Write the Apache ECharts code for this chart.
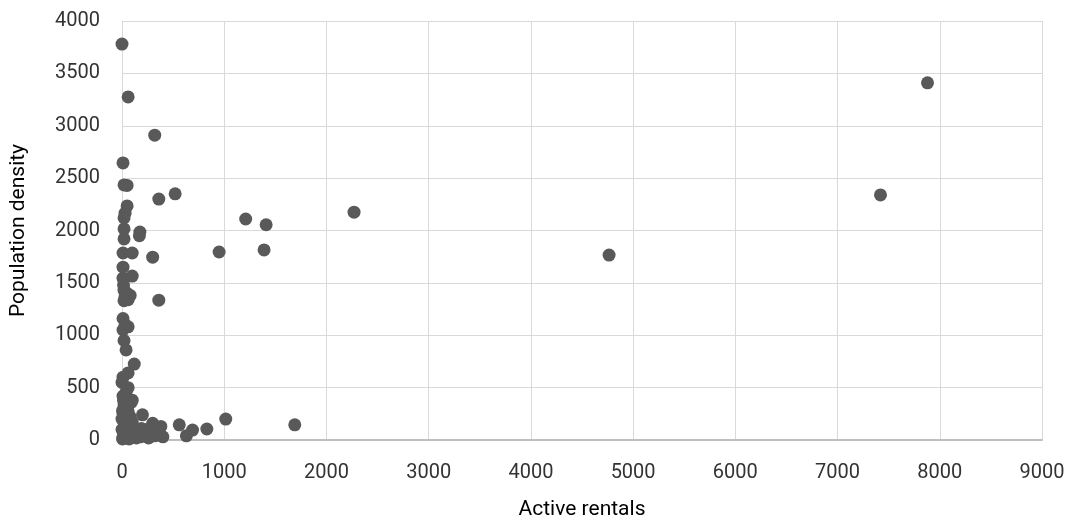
<!DOCTYPE html>
<html>
<head>
<meta charset="utf-8">
<script src="https://cdn.jsdelivr.net/npm/echarts@6/dist/echarts.min.js"></script>
<style>html,body{margin:0;padding:0;background:#fff}#c{width:1068px;height:523px}</style>
</head>
<body>
<div id="c"></div>
<script>
const xTitle = 'Active rentals';
const yTitle = 'Population density';
const rentals = [0,60,320,10,20,50,360,520,50,30,20,1210,1410,2270,7420,7880,4765,950,1390,175,170,20,20,10,100,300,100,360,10,10,15,20,50,80,30,60,20,10,30,60,10,20,40,120,60,10,0,60,10,90,20,200,300,380,360,400,560,690,630,830,1015,1690,
  5,10,15,20,25,30,35,40,10,5,50,60,70,80,90,100,110,120,130,140,150,160,180,190,200,220,240,260,280,300,320,340,80,60,30,100,40,70,0,0,15,50];
const density = [3780,3275,2910,2645,2435,2430,2300,2350,2235,2165,2120,2110,2055,2175,2340,3410,1765,1795,1815,1985,1950,2015,1920,1785,1785,1745,1565,1335,1650,1545,1480,1430,1400,1380,1370,1340,1330,1160,1100,1080,1050,950,860,725,640,600,550,500,420,360,335,240,160,130,50,30,145,95,40,105,200,145,
  10,30,60,90,120,150,180,200,250,280,20,50,80,110,140,170,40,70,100,20,60,90,30,110,70,40,100,20,60,110,40,90,220,270,320,380,460,10,100,200,380,300];
const points = rentals.map((x, i) => [x, density[i]]);
const FONT = 'Roboto, sans-serif';
const fmt = v => String(v);
const chart = echarts.init(document.getElementById('c'));
chart.setOption({
  animation: false,
  grid: {left: 122, right: 26, top: 21, bottom: 83, containLabel: false, outerBoundsMode: 'none'},
  xAxis: {
    type: 'value', min: 0, max: 9000, interval: 1000,
    name: xTitle, nameLocation: 'middle', nameGap: 59,
    nameTextStyle: {fontFamily: FONT, fontSize: 21, color: '#000'},
    axisLine: {show: true, lineStyle: {color: '#bfbfbf', width: 2}},
    axisTick: {show: false},
    axisLabel: {fontFamily: FONT, fontSize: 20, color: '#333', margin: 23, formatter: fmt},
    splitLine: {show: true, lineStyle: {color: '#d9d9d9', width: 1}}
  },
  yAxis: {
    type: 'value', min: 0, max: 4000, interval: 500,
    name: yTitle, nameLocation: 'middle', nameGap: 93, nameRotate: 90,
    nameTextStyle: {fontFamily: FONT, fontSize: 21, color: '#000'},
    axisLine: {show: false},
    axisTick: {show: false},
    axisLabel: {fontFamily: FONT, fontSize: 20, color: '#333', margin: 22, formatter: fmt},
    splitLine: {show: true, lineStyle: {color: '#d9d9d9', width: 1}}
  },
  series: [{
    type: 'scatter', data: points, symbolSize: 13,
    itemStyle: {color: '#595959', opacity: 1}
  }]
});
</script>
</body>
</html>
